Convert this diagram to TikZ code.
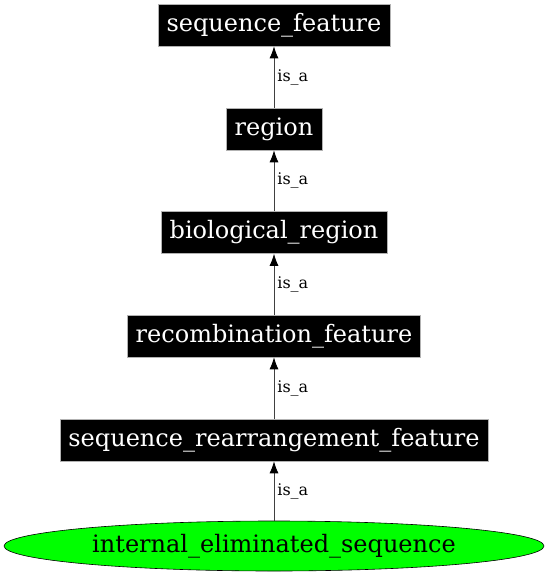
\documentclass[tikz,border=0pt]{standalone}
\usepackage{fontspec}
\setmainfont{DejaVu Serif}
\usetikzlibrary{shapes.geometric,arrows.meta}
\begin{document}
\begin{tikzpicture}[x=1pt,y=1pt,
  termbox/.style={fill=black, text=white, draw=gray!60, line width=0.6pt, inner xsep=8.5pt, minimum height=42pt, font=\fontsize{24}{26}\selectfont},
  isa/.style={draw=black!75, line width=0.8pt, -{Latex[length=12pt,width=9pt,black]}},
  isalabel/.style={right, font=\fontsize{16}{18}\selectfont, inner xsep=3pt}]
\useasboundingbox (0,0) rectangle (548,-576);
\node[termbox] (sf) at (274,-25) {sequence\_feature};
\node[termbox] (rg) at (274,-129) {region};
\node[termbox] (br) at (274,-232.5) {biological\_region};
\node[termbox] (rf) at (274,-336) {recombination\_feature};
\node[termbox] (srf) at (274,-440) {sequence\_rearrangement\_feature};
\node[ellipse, draw=black, fill=green, line width=0.6pt, minimum width=540pt, minimum height=50pt, inner sep=0pt, font=\fontsize{24}{26}\selectfont] (ies) at (274,-546) {internal\_eliminated\_sequence};
\draw[isa] (rg) -- node[isalabel] {is\_a} (sf);
\draw[isa] (br) -- node[isalabel] {is\_a} (rg);
\draw[isa] (rf) -- node[isalabel] {is\_a} (br);
\draw[isa] (srf) -- node[isalabel] {is\_a} (rf);
\draw[isa] (ies) -- node[isalabel] {is\_a} (srf);
\end{tikzpicture}
\end{document}
